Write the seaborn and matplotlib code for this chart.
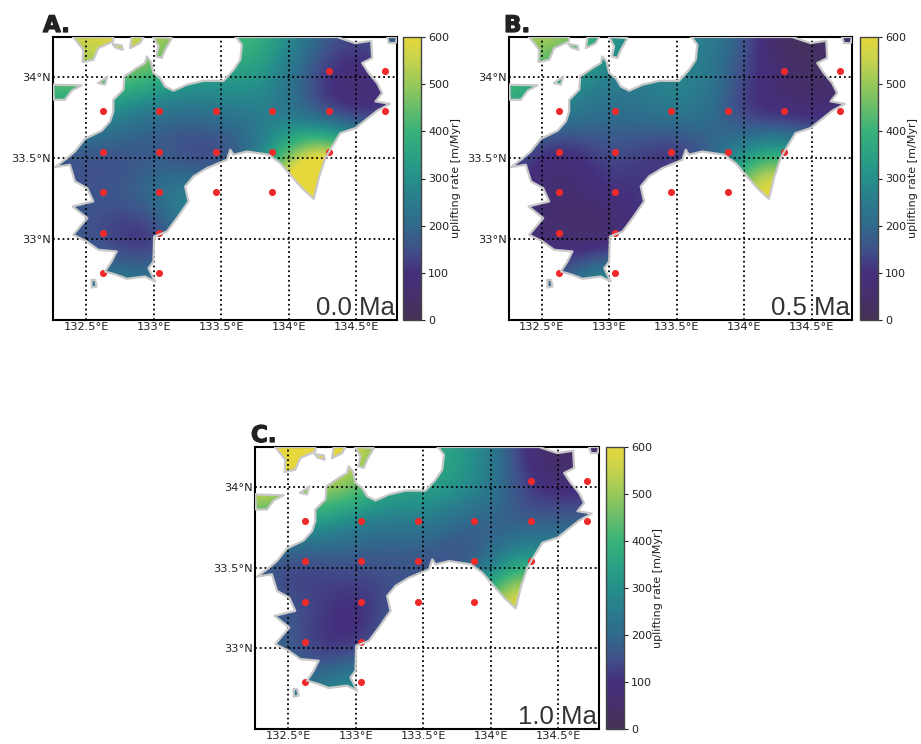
import numpy as np
import pandas as pd
import seaborn as sns
import matplotlib.pyplot as plt
import matplotlib.patheffects as pe
from matplotlib.colors import LinearSegmentedColormap
from matplotlib.patches import Polygon

sns.set_style("white")

W, H = 921, 744

rate_a = [
    [480, 600, 620, 560, 450, 430, 430, 300, 190, 130, 200],
    [480, 480, 450, 420, 350, 330, 340, 230, 100, 55, 100],
    [300, 290, 260, 180, 190, 220, 240, 230, 110, 80, 100],
    [130, 140, 120, 170, 110, 85, 200, 480, 720, 500, 300],
    [140, 170, 180, 240, 310, 320, 400, 800, 1000, 600, 400],
    [160, 160, 70, 50, 250, 300, 400, 500, 600, 500, 400],
    [250, 220, 270, 230, 300, 300, 300, 300, 300, 300, 300],
    [300, 300, 300, 300, 300, 300, 300, 300, 300, 300, 300],
]
rate_b = [
    [500, 560, 500, 320, 280, 270, 260, 170, 15, 10, 60],
    [450, 380, 300, 250, 270, 290, 240, 130, 70, 30, 40],
    [350, 250, 240, 200, 220, 250, 230, 90, 60, 70, 100],
    [150, 60, 60, 150, 100, 55, 150, 330, 450, 300, 200],
    [130, 80, 70, 100, 110, 200, 300, 600, 800, 400, 300],
    [100, 60, 15, 10, 100, 200, 300, 400, 400, 300, 300],
    [200, 130, 240, 350, 300, 300, 300, 300, 300, 300, 300],
    [300, 300, 300, 400, 300, 300, 300, 300, 300, 300, 300],
]
rate_c = [
    [600, 650, 650, 600, 420, 380, 350, 250, 90, 10, 60],
    [600, 550, 520, 480, 370, 360, 330, 260, 120, 70, 90],
    [380, 290, 300, 220, 210, 240, 170, 150, 170, 200, 200],
    [170, 90, 120, 150, 150, 130, 120, 240, 400, 300, 300],
    [210, 170, 130, 70, 150, 200, 300, 550, 800, 400, 300],
    [210, 170, 80, 90, 200, 300, 400, 400, 400, 300, 300],
    [250, 210, 270, 350, 300, 300, 300, 300, 300, 300, 300],
    [300, 300, 300, 400, 300, 300, 300, 300, 300, 300, 300],
]

site_lon = [134.295, 134.71,
            132.628, 133.043, 133.46, 133.878, 134.295, 134.71,
            132.628, 133.043, 133.46, 133.878, 134.295,
            132.628, 133.043, 133.46, 133.878,
            132.628, 133.043,
            132.628, 133.043]
site_lat = [34.04, 34.04,
            33.79, 33.79, 33.79, 33.79, 33.79, 33.79,
            33.54, 33.54, 33.54, 33.54, 33.54,
            33.29, 33.29, 33.29, 33.29,
            33.04, 33.04,
            32.79, 32.79]

coast_lon = [132.357, 132.418, 132.493, 132.616, 132.678, 132.702, 132.702, 132.777, 132.784, 132.875,
             132.937, 132.949, 132.979, 132.999, 133.048, 133.085, 133.147, 133.246, 133.369, 133.517,
             133.591, 133.641, 133.653, 133.616, 133.604, 134.357, 134.431, 134.493, 134.609, 134.616,
             134.542, 134.591, 134.653, 134.69, 134.641, 134.747, 134.653, 134.493, 134.381, 134.32,
             134.27, 134.221, 134.184, 134.098, 134.011, 133.937, 133.851, 133.69, 133.591, 133.567,
             133.542, 133.394, 133.295, 133.233, 133.258, 133.172, 133.098, 133.004, 132.999, 132.962,
             133.011, 132.937, 132.801, 132.727, 132.641, 132.69, 132.727, 132.591, 132.505, 132.406,
             132.51, 132.401, 132.554, 132.51, 132.419, 132.381, 132.27, 132.357]
coast_lat = [33.499, 33.542, 33.621, 33.67, 33.728, 33.79, 33.862, 33.924, 34.006, 34.058,
             34.089, 34.13, 34.099, 34.027, 33.996, 33.944, 33.918, 33.955, 33.979, 33.979,
             34.047, 34.109, 34.202, 34.243, 34.25, 34.25, 34.229, 34.212, 34.227, 34.12,
             34.089, 34.027, 33.965, 33.903, 33.852, 33.837, 33.794, 33.687, 33.656, 33.573,
             33.501, 33.377, 33.249, 33.315, 33.398, 33.47, 33.522, 33.542, 33.522, 33.553,
             33.491, 33.439, 33.388, 33.326, 33.233, 33.13, 33.047, 33.016, 32.862, 32.82,
             32.738, 32.769, 32.755, 32.779, 32.8, 32.862, 32.924, 32.934, 32.986, 33.027,
             33.13, 33.202, 33.233, 33.315, 33.357, 33.46, 33.445, 33.499]

island_lon = [[132.406, 132.48, 132.475, 132.554, 132.591, 132.702, 132.702, 132.406],
              [132.698, 132.764, 132.772, 132.715, 132.698],
              [132.838, 132.925, 132.9, 132.826, 132.838],
              [132.999, 133.135, 133.085, 133.06, 133.019, 133.036, 132.999],
              [132.258, 132.468, 132.394, 132.344, 132.263, 132.258],
              [132.591, 132.658, 132.641, 132.591],
              [132.542, 132.567, 132.579, 132.542, 132.542],
              [134.727, 134.8, 134.79, 134.74, 134.727]]
island_lat = [[34.25, 34.171, 34.095, 34.109, 34.181, 34.223, 34.25, 34.25],
              [34.206, 34.198, 34.171, 34.186, 34.206],
              [34.25, 34.25, 34.212, 34.181, 34.25],
              [34.25, 34.243, 34.171, 34.12, 34.13, 34.192, 34.25],
              [33.955, 33.951, 33.918, 33.862, 33.862, 33.955],
              [33.965, 34.006, 33.955, 33.965],
              [32.748, 32.748, 32.707, 32.701, 32.748],
              [34.25, 34.25, 34.212, 34.212, 34.25]]

grid_lon = [132.5, 133.0, 133.5, 134.0, 134.5]
grid_lat = [33.0, 33.5, 34.0]
lon_labels = ["132.5°E", "133°E", "133.5°E", "134°E", "134.5°E"]
lat_labels = ["33°N", "33.5°N", "34°N"]

cbar_ticks = [0, 100, 200, 300, 400, 500, 600]
cmap_colors = ["#433255", "#46306c", "#452f7d", "#40518a", "#306a8c", "#2a7b8d", "#258f8a",
               "#2ba283", "#38b27a", "#67bc6a", "#98c85a", "#c5d24e", "#e6d73d"]
rate_cmap = LinearSegmentedColormap.from_list("rate", cmap_colors)

panels = [
    ("A.", 43, "0.0 Ma", rate_a, (53, 37, 397, 320), (403, 421), 456),
    ("B.", 504, "0.5 Ma", rate_b, (509, 37, 852, 320), (860, 878), 913),
    ("C.", 251, "1.0 Ma", rate_c, (255, 447, 599, 729), (606, 624), 658),
]


def px_axes(fig, x0, y0, x1, y1):
    return fig.add_axes([x0 / W, 1 - y1 / H, (x1 - x0) / W, (y1 - y0) / H])


fig = plt.figure(figsize=(W / 100, H / 100), dpi=100)
sites = pd.DataFrame({"lon": site_lon, "lat": site_lat})
dx = 0.125
dy = 0.125

for letter, letter_x, age, rate, box, cbox, label_x in panels:
    ax = px_axes(fig, *box)
    # carte
    polys = [(coast_lon, coast_lat)] + list(zip(island_lon, island_lat))
    images = []
    for lons, lats in polys:
        im = ax.imshow(np.array(rate, dtype=float), cmap=rate_cmap, vmin=0, vmax=600,
                       interpolation="bicubic", aspect="auto",
                       extent=(132.25 - dx, 134.75 + dx, 32.5 - dy, 34.25 + dy), zorder=1)
        patch = Polygon(np.column_stack([lons, lats]), transform=ax.transData, fc="none", ec="none")
        ax.add_patch(patch)
        im.set_clip_path(patch)
        images.append(im)

    sns.scatterplot(data=sites, x="lon", y="lat", color="#f02a2a", s=26, linewidth=0, ax=ax, zorder=3)
    for lons, lats in polys:
        sns.lineplot(x=lons, y=lats, sort=False, estimator=None, color="#c8c8c8", lw=1.6, ax=ax, zorder=4)

    ax.set_xlim(132.256, 134.80)
    ax.set_ylim(32.5, 34.25)
    ax.set_xticks(grid_lon, lon_labels)
    ax.set_yticks(grid_lat, lat_labels)
    ax.tick_params(length=0, labelsize=8.2, pad=1.5, colors="#222222")
    ax.grid(True, color="black", ls=":", lw=1.3, zorder=5)
    ax.set_axisbelow(False)
    ax.set_xlabel("")
    ax.set_ylabel("")
    for s in ax.spines.values():
        s.set_visible(True)
        s.set_color("black")
        s.set_linewidth(1.5)

    ax.text(0.995, 5 / 283, age, transform=ax.transAxes, ha="right", va="baseline", zorder=6,
            fontsize=18.5, family="Liberation Sans", color="#333333")
    fig.text(letter_x / W, 1 - (box[1] - 5) / H, letter, fontsize=16.5, fontweight="bold",
             family="DejaVu Sans", color="#222222", ha="left", va="baseline",
             path_effects=[pe.withStroke(linewidth=0.9, foreground="#222222")])

    cax = px_axes(fig, cbox[0], box[1], cbox[1], box[3])
    cb = fig.colorbar(images[0], cax=cax)
    cb.set_ticks(cbar_ticks)
    cb.ax.tick_params(labelsize=8, length=3, width=0.8, pad=2, colors="#222222")
    cb.outline.set_edgecolor("#444444")
    cb.outline.set_linewidth(1.0)
    fig.text(label_x / W, 1 - (box[1] + 141) / H, "uplifting rate [m/Myr]", rotation=90,
             fontsize=8, ha="center", va="center", color="#222222")

fig.savefig("out.png", dpi=100)
